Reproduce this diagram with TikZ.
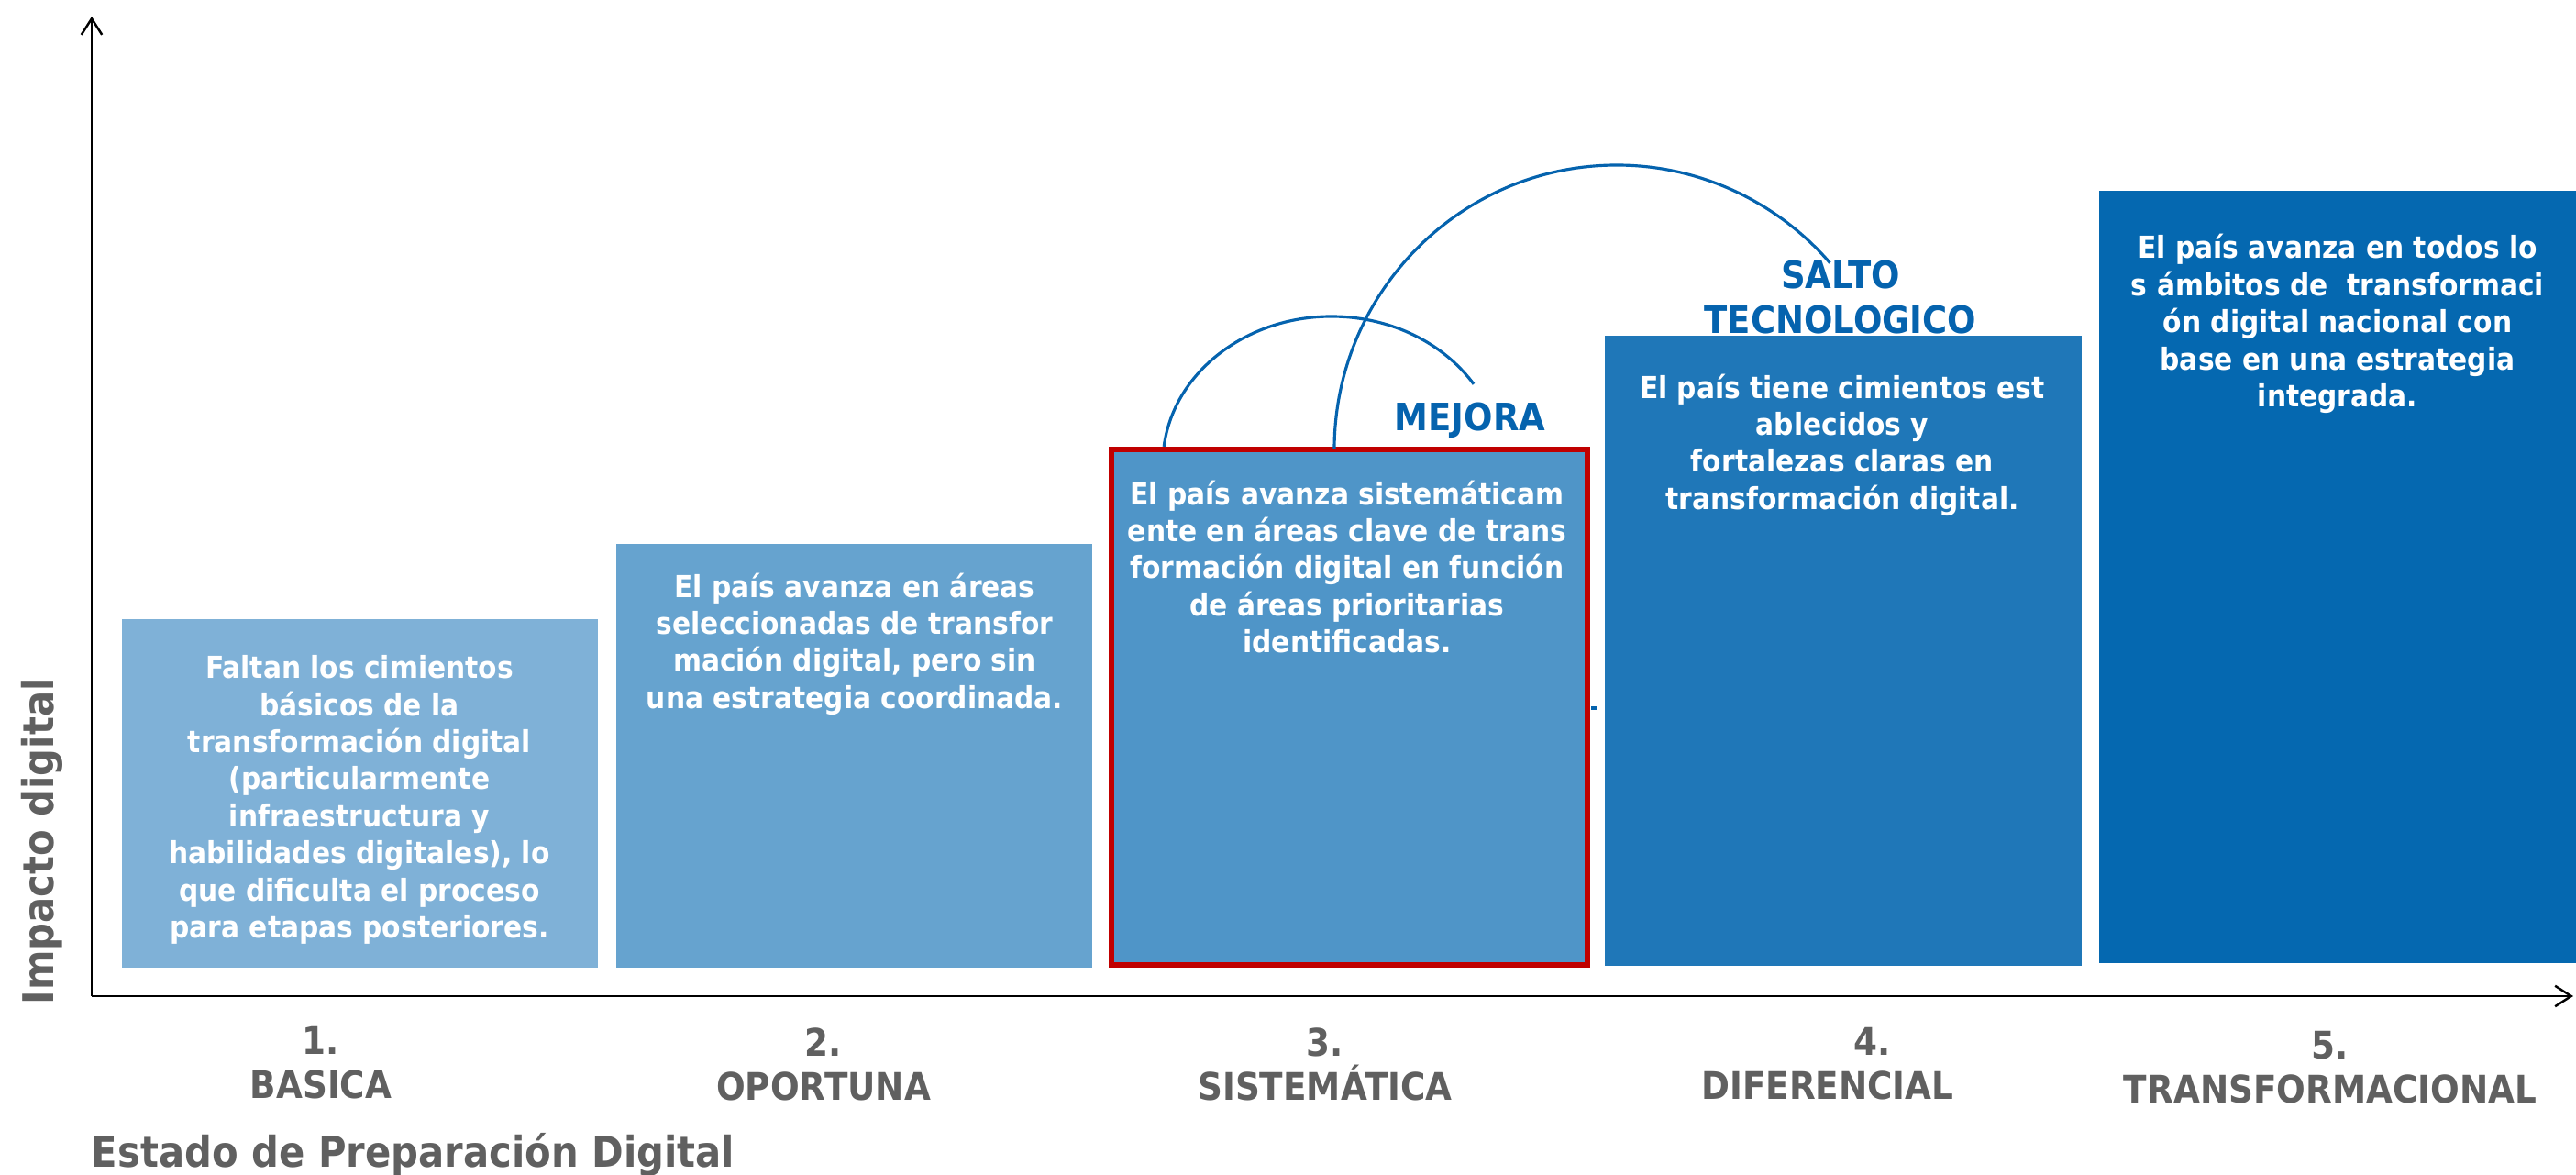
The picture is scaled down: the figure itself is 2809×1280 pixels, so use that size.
\documentclass[tikz,border=0pt]{standalone}
\usepackage{fontspec}
\setmainfont{DejaVu Sans}[FakeStretch=0.9]
\usepackage{tikz}
\usetikzlibrary{arrows.meta}

\definecolor{stageA}{HTML}{7FB1D7}
\definecolor{stageB}{HTML}{66A3CF}
\definecolor{stageC}{HTML}{4F95C8}
\definecolor{stageD}{HTML}{1F77B8}
\definecolor{stageE}{HTML}{0568B0}
\definecolor{arcblue}{HTML}{0563AE}
\definecolor{boxred}{HTML}{C00000}
\definecolor{labelgray}{HTML}{606060}

\begin{document}
\begin{tikzpicture}[x=0.1mm, y=0.1mm, >={Straight Barb[length=5pt,width=6.4pt]},
    txt/.style={text=white, align=center, inner sep=0pt,
      font=\bfseries\fontsize{9.4}{11.5}\selectfont},
    tag/.style={text=arcblue, align=center, inner sep=0pt,
      font=\bfseries\fontsize{11.7}{14.2}\selectfont},
    stagelabel/.style={text=labelgray, align=center, inner sep=0pt,
      font=\bfseries\fontsize{11.8}{13.7}\selectfont},
    axislabel/.style={text=labelgray, inner sep=0pt,
      font=\bfseries\fontsize{13.2}{16}\selectfont},
    jump/.style={draw=arcblue, line width=0.9pt}]
  \useasboundingbox (0,0) rectangle (2809,1280);

  \fill[stageA] (133,225) rectangle (652,605);
  \fill[stageB] (672,225) rectangle (1191,687);
  \filldraw[fill=stageC, draw=boxred, line width=1.7pt] (1212,228) rectangle (1731,790);
  \fill[stageD] (1750,227) rectangle (2270,914);
  \fill[stageE] (2289,230) rectangle (2809,1072);

  \draw[line width=0.7pt,->] (100,194) -- (100,1262);
  \draw[line width=0.7pt,->] (100,194) -- (2806,194);

  \node[txt] (t1) at (392,408) {Faltan los cimientos\\básicos de la\\transformación digital\\(particularmente\\infraestructura y\\habilidades digitales), lo\\que dificulta el proceso\\para etapas posteriores.};
  \node[txt] (t2) at (932,578) {El país avanza en áreas\\seleccionadas de transfor\\mación digital, pero sin\\una estrategia coordinada.};
  \node[txt] (t3) at (1469,662) {El país avanza sistemáticam\\ente en áreas clave de trans\\formación digital en función\\de áreas prioritarias\\identificadas.};
  \node[txt] (t4) at (2009,795) {El país tiene cimientos est\\ablecidos y\\fortalezas claras en\\transformación digital.};
  \node[txt] (t5) at (2549,927) {El país avanza en todos lo\\s ámbitos de\ \ transformaci\\ón digital nacional con\\base en una estrategia\\integrada.};

  \coordinate (mejora) at (1452,775);
  \coordinate (salto) at (1763,790);
  \draw[jump] (mejora) ++(173.5:184 and 160) arc[start angle=173.5, end angle=32.6, x radius=184, y radius=160];
  \draw[jump] (salto) ++(180:308 and 310) arc[start angle=180, end angle=41, x radius=308, y radius=310];
  \draw[arcblue, line width=1.1pt] (1735,508) -- (1741,508);

  \node[tag, anchor=base] (m) at (1603,810) {MEJORA};
  \node[tag] (s) at (2007,956) {SALTO\\TECNOLOGICO};

  \node[stagelabel] (l1) at (350,121) {1.\\BASICA};
  \node[stagelabel] (l2) at (898,120) {2.\\OPORTUNA};
  \node[stagelabel] (l3) at (1445,120) {3.\\SISTEMÁTICA};
  \node[stagelabel] (l4) at (2042,120) {4.\\DIFERENCIAL\hspace*{28pt}};
  \node[stagelabel] (l5) at (2541,116) {5.\\TRANSFORMACIONAL};

  \node[axislabel, anchor=base west] (xl) at (99,8) {Estado de Preparación Digital};
  \node[axislabel, anchor=base west, rotate=90] (yl) at (58,184) {Impacto digital};
\end{tikzpicture}
\end{document}
